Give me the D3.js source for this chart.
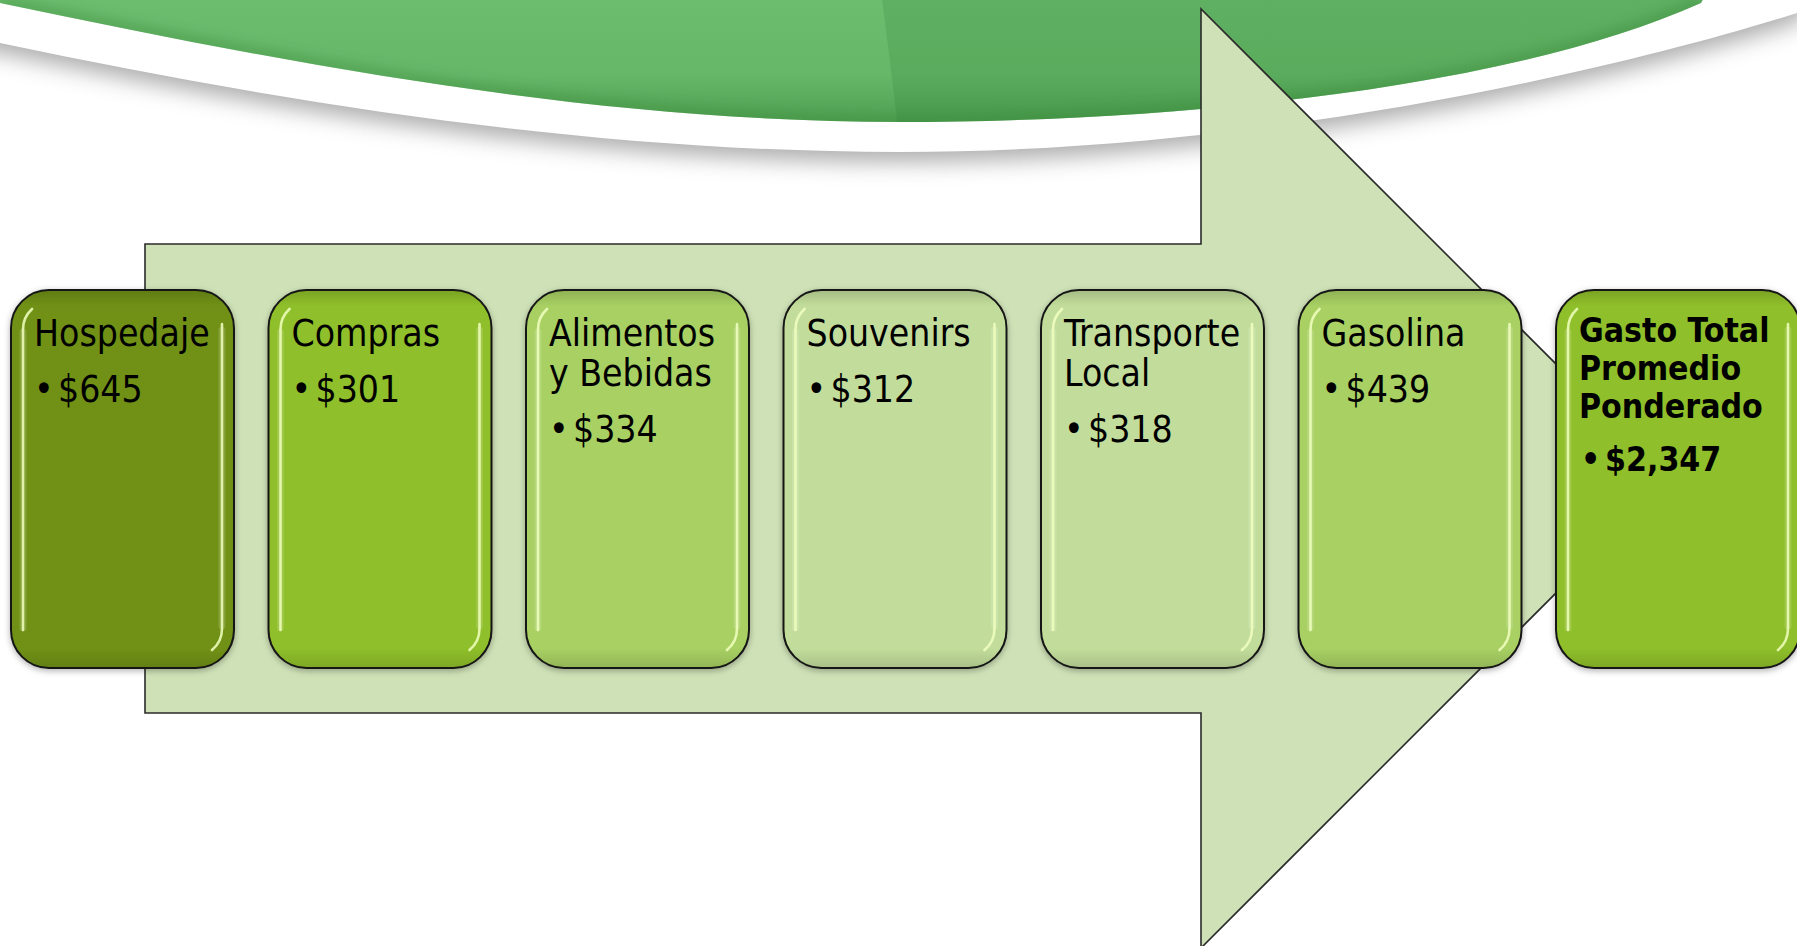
<!DOCTYPE html>
<html>
<head>
<meta charset="utf-8">
<script src="https://cdn.jsdelivr.net/npm/d3@7"></script>
<style>
  html, body { margin: 0; padding: 0; background: #fff; overflow: hidden; }
  svg { display: block; }
  .label { font-family: Tahoma, 'DejaVu Sans', sans-serif; font-stretch: condensed; fill: #000; }
</style>
</head>
<body>
<svg id="svg-flow"></svg>
<script>
////////////
/// DATA ///
////////////

const categories = ['Hospedaje', 'Compras', 'Alimentos y Bebidas', 'Souvenirs',
    'Transporte Local', 'Gasolina', 'Gasto Total Promedio Ponderado'];
const titleLines = [['Hospedaje'], ['Compras'], ['Alimentos', 'y Bebidas'], ['Souvenirs'],
    ['Transporte', 'Local'], ['Gasolina'], ['Gasto Total', 'Promedio', 'Ponderado']];
const values = [645, 301, 334, 312, 318, 439, 2347];
const boxColors = ['#6f9119', '#8fbf2b', '#a8d063', '#c2dd9b', '#c2dd9b', '#a8d063', '#8fbf2b'];
// the total box is drawn bold and a bit wider
const totalCategory = 'Gasto Total Promedio Ponderado';

//////////////
/// LAYOUT ///
//////////////

const width = 1797;
const height = 946;

const boxTop = 290;
const boxBottom = 668;
const boxRadius = 38;
const totalExtra = 21;

const arrowLeft = 145;
const arrowTop = 244;
const arrowBottom = 713;
const headX = 1201;
const headTop = 9;

const fmt = d3.format('$,');

const svg = d3.select('#svg-flow')
    .attr('width', width)
    .attr('height', height)
    .attr('viewBox', '0 0 ' + width + ' ' + height);

const defs = svg.append('defs');

// x-scale for the boxes
const xScale = d3.scaleBand()
    .domain(categories)
    .range([11, 1779])
    .paddingInner(0.134)
    .paddingOuter(0);

function boxWidth(d) {
    return xScale.bandwidth() + (d === totalCategory ? totalExtra : 0);
}

////////////////////////
/// BANNER (TOP)     ///
////////////////////////

const greenGrad = defs.append('linearGradient')
    .attr('id', 'grad-green')
    .attr('gradientUnits', 'userSpaceOnUse')
    .attr('x1', 0).attr('y1', 0).attr('x2', 0).attr('y2', 125);
greenGrad.append('stop').attr('offset', 0).attr('stop-color', '#6dbd6f');
greenGrad.append('stop').attr('offset', 0.6).attr('stop-color', '#67b769');
greenGrad.append('stop').attr('offset', 1).attr('stop-color', '#4f9f51');

defs.append('filter')
    .attr('id', 'blur-shadow')
    .attr('x', '-10%').attr('y', '-50%').attr('width', '120%').attr('height', '200%')
    .append('feGaussianBlur')
    .attr('stdDeviation', 11);

defs.append('filter')
    .attr('id', 'blur-edge')
    .attr('x', '-10%').attr('y', '-50%').attr('width', '120%').attr('height', '200%')
    .append('feGaussianBlur')
    .attr('stdDeviation', 6);

const banner = svg.append('g').attr('id', 'banner');

const bandPath = 'M-30,-30 L-30,37 L0,43 C300,106 600,152 900,152 C1250,152 1600,75 1797,13 L1830,-30 Z';
const greenPath = 'M-30,-30 L-30,-3 L0,3 C300,66 600,122 900,122 C1150,122 1501,93 1701,3 L1720,-30 Z';

// grey shadow under the white band
banner.append('path')
    .attr('d', bandPath)
    .attr('transform', 'translate(0,10)')
    .attr('fill', '#8a8a8a')
    .attr('opacity', 0.7)
    .attr('filter', 'url(#blur-shadow)');

// white band
banner.append('path')
    .attr('d', bandPath)
    .attr('fill', '#ffffff');

// green shape
banner.append('path')
    .attr('d', greenPath)
    .attr('fill', 'url(#grad-green)');

banner.append('clipPath')
    .attr('id', 'clip-green')
    .append('path')
    .attr('d', greenPath);

// darker rim along the lower edge of the green shape
banner.append('path')
    .attr('d', 'M0,3 C300,66 600,122 900,122 C1150,122 1501,93 1701,3')
    .attr('fill', 'none')
    .attr('stroke', '#3f8f41')
    .attr('stroke-width', 14)
    .attr('opacity', 0.45)
    .attr('filter', 'url(#blur-edge)')
    .attr('clip-path', 'url(#clip-green)');

// darker right half of the green shape
banner.append('path')
    .attr('d', 'M882,-30 L882,0 C890,60 895,100 899,140 L1830,140 L1830,-30 Z')
    .attr('fill', '#2f7f31')
    .attr('opacity', 0.2)
    .attr('clip-path', 'url(#clip-green)');

//////////////
/// ARROW  ///
//////////////

const midY = (arrowTop + arrowBottom) / 2;
const tipX = headX + (midY - headTop);
const headBottom = 2 * midY - headTop;

svg.append('path')
    .attr('id', 'arrow')
    .attr('d', d3.line()([
        [arrowLeft, arrowTop], [headX, arrowTop], [headX, headTop], [tipX, midY],
        [headX, headBottom], [headX, arrowBottom], [arrowLeft, arrowBottom]
    ]) + 'Z')
    .attr('fill', '#cfe2b7')
    .attr('stroke', '#2b2b2b')
    .attr('stroke-width', 1.6);

/////////////
/// BOXES ///
/////////////

const bevel = defs.append('linearGradient')
    .attr('id', 'grad-bevel')
    .attr('x1', 0).attr('y1', 0).attr('x2', 0).attr('y2', 1);
bevel.append('stop').attr('offset', 0).attr('stop-color', '#000').attr('stop-opacity', 0.14);
bevel.append('stop').attr('offset', 0.04).attr('stop-color', '#000').attr('stop-opacity', 0);
bevel.append('stop').attr('offset', 0.95).attr('stop-color', '#000').attr('stop-opacity', 0);
bevel.append('stop').attr('offset', 1).attr('stop-color', '#000').attr('stop-opacity', 0.12);

const dropShadow = defs.append('filter')
    .attr('id', 'box-shadow')
    .attr('x', '-10%').attr('y', '-10%').attr('width', '120%').attr('height', '120%');
dropShadow.append('feDropShadow')
    .attr('dx', 0).attr('dy', 2).attr('stdDeviation', 3)
    .attr('flood-color', '#000').attr('flood-opacity', 0.3);

const boxes = svg.append('g')
    .attr('id', 'boxes')
    .selectAll('g').data(categories).enter()
    .append('g')
    .attr('class', 'box')
    .attr('transform', function(d) {return 'translate(' + xScale(d) + ',' + boxTop + ')'});

const boxH = boxBottom - boxTop;

boxes.append('rect')
    .attr('width', boxWidth)
    .attr('height', boxH)
    .attr('rx', boxRadius)
    .attr('fill', function(d, i) {return boxColors[i]})
    .attr('stroke', '#151515')
    .attr('stroke-width', 2)
    .attr('filter', 'url(#box-shadow)');

boxes.append('rect')
    .attr('x', 1).attr('y', 1)
    .attr('width', function(d) {return boxWidth(d) - 2})
    .attr('height', boxH - 2)
    .attr('rx', boxRadius - 1)
    .attr('fill', 'url(#grad-bevel)');

// soft glow behind the highlight lines
boxes.append('path')
    .attr('d', function(d) {
        const w = boxWidth(d);
        return 'M12,' + (boxH - 40) + ' L12,42 M' + (w - 12) + ',40 L' + (w - 12) + ',' + (boxH - 42);
    })
    .attr('fill', 'none')
    .attr('stroke', '#ffffff')
    .attr('stroke-width', 7)
    .attr('stroke-linecap', 'round')
    .attr('opacity', 0.15);

// glossy highlight lines along the sides
boxes.append('path')
    .attr('d', function(d) {
        const w = boxWidth(d);
        return 'M12,' + (boxH - 38) + ' L12,40 A28,28 0 0 1 21,19' +
            ' M' + (w - 12) + ',34 L' + (w - 12) + ',' + (boxH - 40) +
            ' A28,28 0 0 1 ' + (w - 22) + ',' + (boxH - 18);
    })
    .attr('fill', 'none')
    .attr('stroke', '#f1ffc0')
    .attr('stroke-width', 2.6)
    .attr('stroke-linecap', 'round')
    .attr('opacity', 0.85);

//////////////
/// LABELS ///
//////////////

boxes.each(function(d, i) {
    const g = d3.select(this);
    const isTotal = d === totalCategory;
    const fontSize = isTotal ? 33.5 : 37;
    const firstY = isTotal ? 52 : 56;
    const lineH = isTotal ? 38 : 40;
    const gap = isTotal ? 53 : 56;
    const weight = isTotal ? 'bold' : 'normal';
    const lines = titleLines[i];

    const text = g.append('text')
        .attr('class', 'label')
        .attr('font-size', fontSize)
        .attr('font-weight', weight);

    lines.forEach(function(line, j) {
        text.append('tspan')
            .attr('x', 23)
            .attr('y', firstY + j * lineH)
            .text(line);
    });

    const yBullet = firstY + (lines.length - 1) * lineH + gap;
    g.append('text')
        .attr('class', 'label')
        .attr('x', isTotal ? 25 : 23)
        .attr('y', yBullet)
        .attr('font-size', fontSize)
        .attr('font-weight', weight)
        .text('\u2022');
    g.append('text')
        .attr('class', 'label')
        .attr('x', isTotal ? 49 : 47)
        .attr('y', yBullet)
        .attr('font-size', fontSize)
        .attr('font-weight', weight)
        .text(fmt(values[i]));
});
</script>
</body>
</html>
